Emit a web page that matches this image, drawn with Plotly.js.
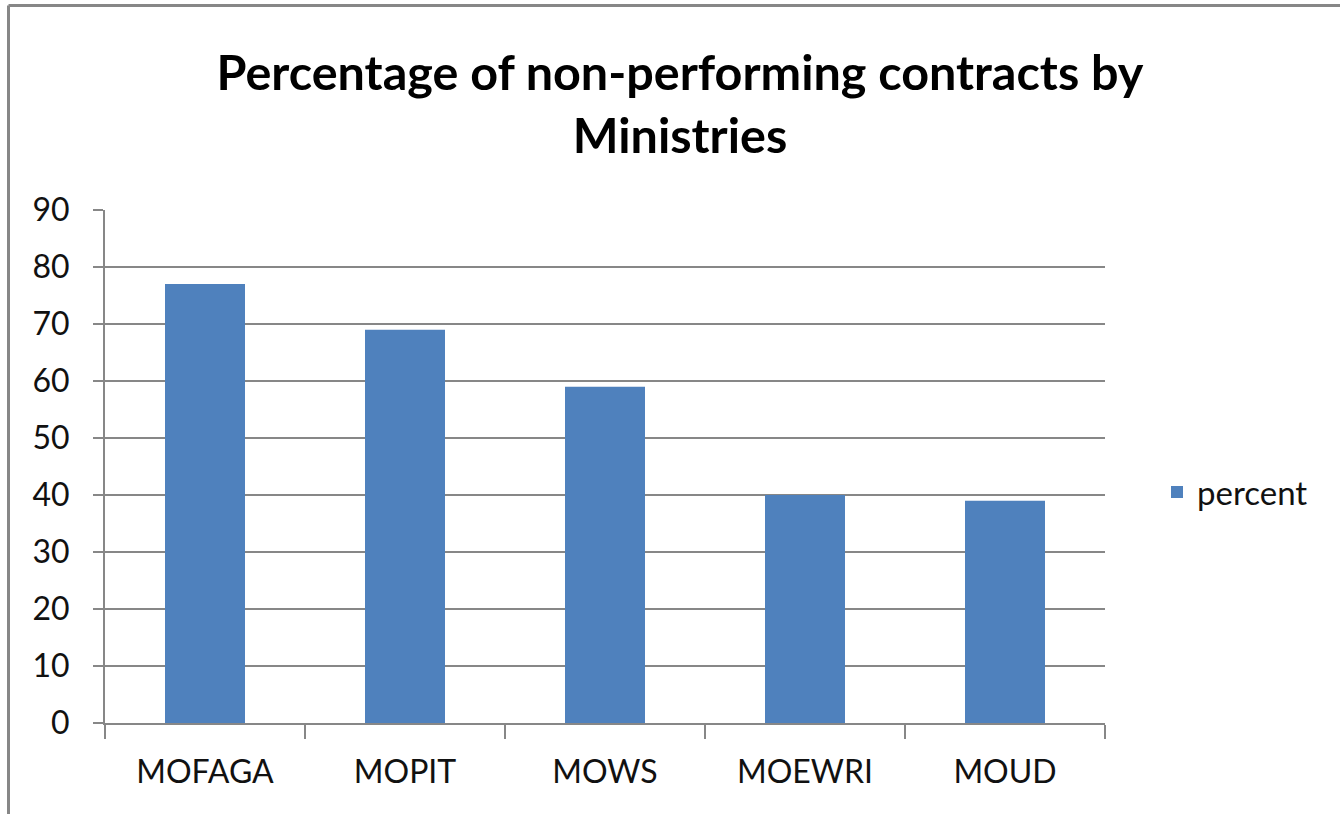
<!DOCTYPE html>
<html>
<head>
<meta charset="utf-8">
<script src="https://cdn.plot.ly/plotly-3.0.1.min.js"></script>
<style>
html,body{margin:0;padding:0;background:#fff;}
#chart{width:1340px;height:814px;}
</style>
</head>
<body>
<div id="chart"></div>
<script>
const categories = ["MOFAGA", "MOPIT", "MOWS", "MOEWRI", "MOUD"];
const percentValues = [77, 69, 59, 40, 39];
const seriesName = "percent";
const yTicks = [0, 10, 20, 30, 40, 50, 60, 70, 80, 90];

const trace = {
  type: "bar",
  x: categories,
  y: percentValues,
  name: seriesName,
  marker: {color: "#4F81BD", line: {width: 0}},
  showlegend: true,
  hoverinfo: "x+y"
};

const layout = {
  width: 1340,
  height: 814,
  paper_bgcolor: "#ffffff",
  plot_bgcolor: "#ffffff",
  margin: {l: 105, r: 235, t: 210, b: 91, pad: 0},
  font: {family: "Lato, 'Open Sans', sans-serif", color: "#111111", size: 32},
  title: {
    text: "<b>Percentage of non-performing contracts by<br>Ministries</b>",
    font: {family: "Lato, 'Open Sans', sans-serif", size: 48.5, color: "#000000"},
    x: 680 / 1340, xref: "container", xanchor: "center",
    y: 1 - 90 / 814, yref: "container", yanchor: "middle"
  },
  bargap: 0.6,
  xaxis: {
    type: "category",
    showline: true, linecolor: "#878787", linewidth: 2,
    ticks: "outside", tickson: "boundaries", ticklen: 14, tickcolor: "#878787", tickwidth: 2,
    ticklabelstandoff: 20,
    showgrid: false, zeroline: false,
    tickfont: {size: 32, color: "#111111"}
  },
  yaxis: {
    range: [0, 90],
    tickvals: yTicks,
    showline: true, linecolor: "#878787", linewidth: 2,
    ticks: "outside", ticklen: 10, tickcolor: "#878787", tickwidth: 2,
    ticklabelstandoff: 17,
    showgrid: true, gridcolor: "#878787", gridwidth: 1.5,
    zeroline: false,
    tickfont: {size: 32, color: "#111111"}
  },
  legend: {
    x: 1.052, xanchor: "left",
    y: 0.45, yanchor: "middle",
    font: {size: 33, color: "#111111"},
    itemwidth: 30,
    bgcolor: "rgba(0,0,0,0)"
  },
  shapes: [
    {type: "line", xref: "paper", yref: "paper",
     x0: (8.5 - 105) / 1000, x1: (1340 - 105) / 1000,
     y0: (723 - 5.5) / 513, y1: (723 - 5.5) / 513,
     line: {color: "#878787", width: 3}},
    {type: "line", xref: "paper", yref: "paper",
     x0: (8.5 - 105) / 1000, x1: (8.5 - 105) / 1000,
     y0: (723 - 5.5) / 513, y1: (723 - 814) / 513,
     line: {color: "#878787", width: 3}}
  ]
};

Plotly.newPlot("chart", [trace], layout, {displayModeBar: false, staticPlot: true});
</script>
</body>
</html>
